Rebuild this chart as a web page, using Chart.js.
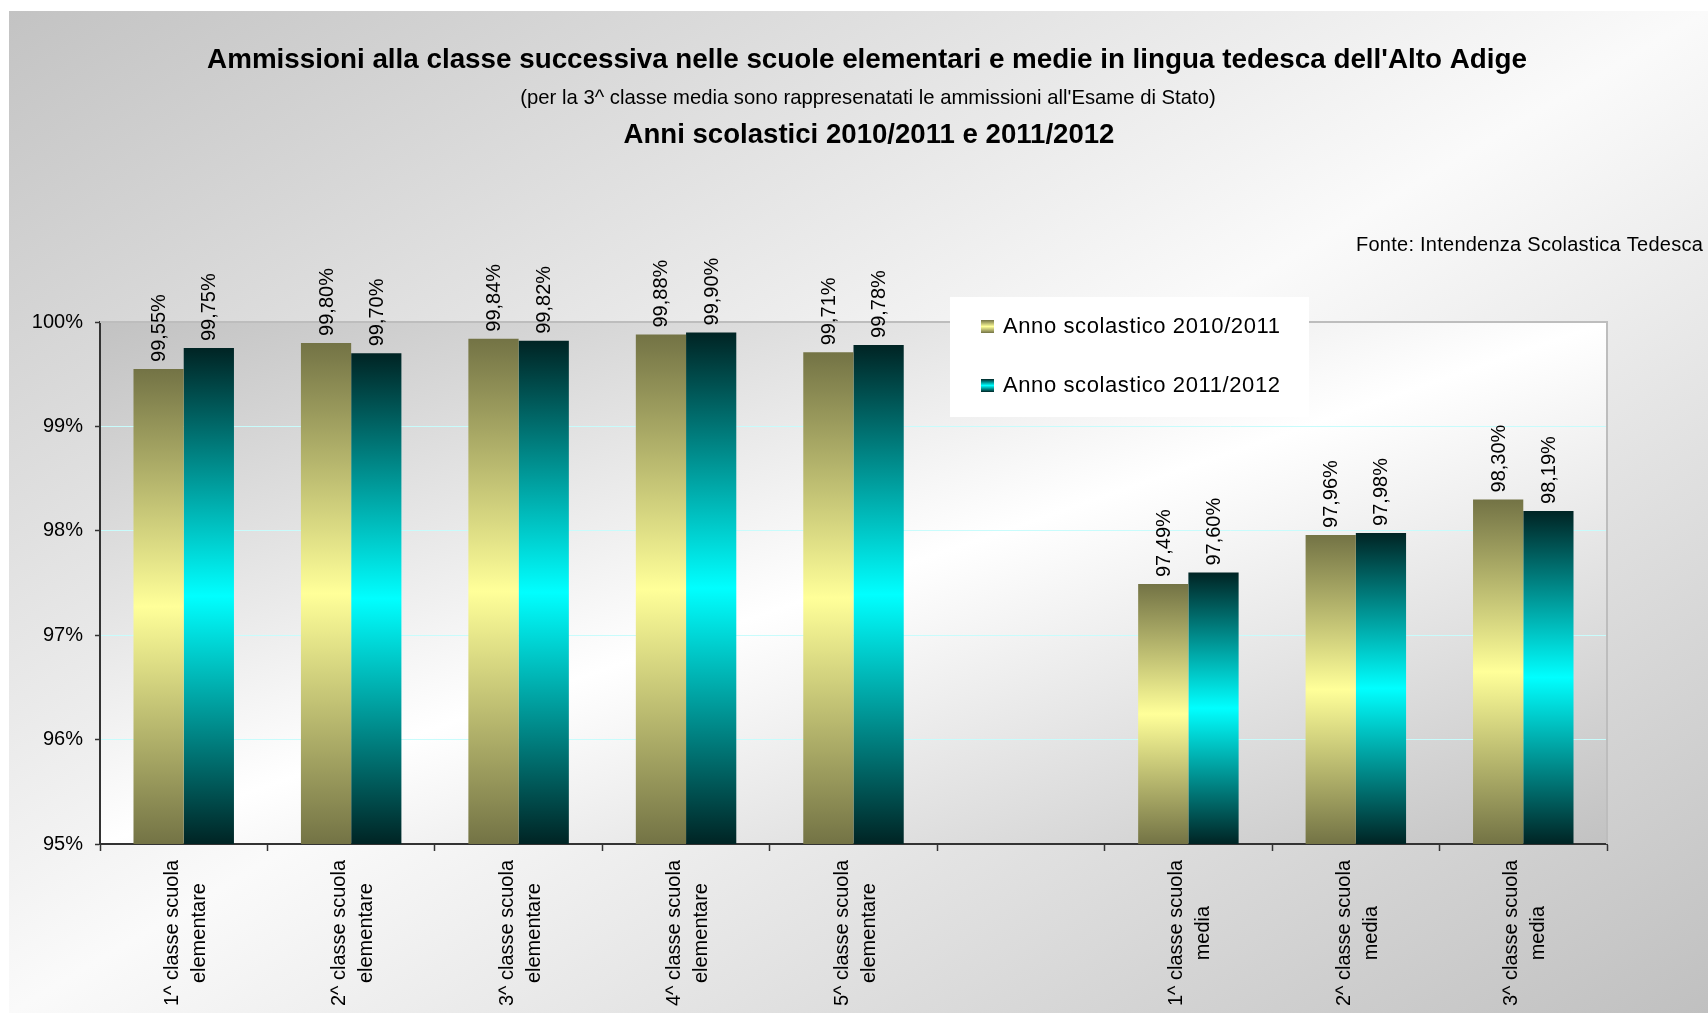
<!DOCTYPE html>
<html>
<head>
<meta charset="utf-8">
<script src="https://cdn.jsdelivr.net/npm/chart.js@4.4.1/dist/chart.umd.min.js"></script>
<style>
    html, body { margin: 0; padding: 0; background: #fff; }
    #wrap { width: 1708px; height: 1013px; }
</style>
</head>
<body>
<div id="wrap"><canvas id="myChart" width="1708" height="1013"></canvas></div>
<script>
// categories (two-line labels), the 6th slot is the empty gap between the two school levels
const categories = [
    ['1^ classe scuola', 'elementare'],
    ['2^ classe scuola', 'elementare'],
    ['3^ classe scuola', 'elementare'],
    ['4^ classe scuola', 'elementare'],
    ['5^ classe scuola', 'elementare'],
    [''],
    ['1^ classe scuola', 'media'],
    ['2^ classe scuola', 'media'],
    ['3^ classe scuola', 'media']
];
const anno_2010_2011 = [99.55, 99.80, 99.84, 99.88, 99.71, null, 97.49, 97.96, 98.30];
const anno_2011_2012 = [99.75, 99.70, 99.82, 99.90, 99.78, null, 97.60, 97.98, 98.19];
const series_names = ['Anno scolastico 2010/2011', 'Anno scolastico 2011/2012'];
const y_ticks = [95, 96, 97, 98, 99, 100];

const title_main = "Ammissioni alla classe successiva nelle scuole elementari e medie in lingua tedesca dell'Alto Adige";
const title_sub = "(per la 3^ classe media sono rappresenatati le ammissioni all'Esame di Stato)";
const title_years = "Anni scolastici 2010/2011 e 2011/2012";
const source_text = "Fonte: Intendenza Scolastica Tedesca";

const FONT = '"Liberation Sans", Arial, sans-serif';
const yellow_stops = ['#737345', '#ffff99', '#737345'];
const cyan_stops = ['#002424', '#00ffff', '#002424'];

function bar_gradient(stops) {
    return function (context) {
        const chart = context.chart;
        if (!chart.chartArea || context.raw == null) return stops[1];
        const ys = chart.scales.y;
        const top = ys.getPixelForValue(context.raw);
        const bottom = ys.getPixelForValue(ys.min);
        const g = chart.ctx.createLinearGradient(0, top, 0, bottom);
        g.addColorStop(0, stops[0]);
        g.addColorStop(0.5, stops[1]);
        g.addColorStop(1, stops[2]);
        return g;
    };
}

// corner-to-corner gradient whose middle runs through bottom-left and top-right corners
function diag_fill(ctx, x, y, w, h, c1, c2, c3) {
    const cx = x + w / 2, cy = y + h / 2;
    const k = (w * h) / (w * w + h * h);
    const g = ctx.createLinearGradient(cx - k * h, cy - k * w, cx + k * h, cy + k * w);
    g.addColorStop(0, c1);
    g.addColorStop(0.5, c2);
    g.addColorStop(1, c3);
    ctx.fillStyle = g;
    ctx.fillRect(x, y, w, h);
}

const backgroundPlugin = {
    id: 'backgroundPlugin',
    beforeDraw(chart) {
        const ctx = chart.ctx;
        const a = chart.chartArea;
        ctx.save();
        ctx.fillStyle = '#ffffff';
        ctx.fillRect(0, 0, chart.width, chart.height);
        diag_fill(ctx, 9, 11, chart.width - 9, chart.height - 11, '#c3c3c3', '#fafafa', '#c0c0c0');
        diag_fill(ctx, a.left, a.top, a.right - a.left, a.bottom - a.top, '#c2c2c2', '#ffffff', '#c2c2c2');
        ctx.restore();
    },
    beforeDatasetsDraw(chart) {
        const ctx = chart.ctx;
        const a = chart.chartArea;
        ctx.save();
        ctx.strokeStyle = '#bdbdbd';
        ctx.lineWidth = 2;
        ctx.beginPath();
        ctx.moveTo(a.left, a.top);
        ctx.lineTo(a.right, a.top);
        ctx.lineTo(a.right, a.bottom);
        ctx.stroke();
        ctx.restore();
    }
};

const textPlugin = {
    id: 'textPlugin',
    afterDatasetsDraw(chart) {
        const ctx = chart.ctx;
        ctx.save();
        ctx.font = '20px ' + FONT;
        ctx.fillStyle = '#000';
        ctx.textAlign = 'left';
        ctx.textBaseline = 'middle';
        chart.data.datasets.forEach((ds, i) => {
            chart.getDatasetMeta(i).data.forEach((bar, j) => {
                const v = ds.data[j];
                if (v == null) return;
                ctx.save();
                ctx.translate(bar.x + 1, bar.y - 7);
                ctx.rotate(-Math.PI / 2);
                ctx.fillText(v.toFixed(2).replace('.', ',') + '%', 0, 0);
                ctx.restore();
            });
        });
        ctx.restore();
    },
    afterDraw(chart) {
        const ctx = chart.ctx;
        const xs = chart.scales.x;
        ctx.save();
        ctx.fillStyle = '#000';

        // header
        ctx.textAlign = 'center';
        ctx.textBaseline = 'alphabetic';
        ctx.font = 'bold 27.8px ' + FONT;
        ctx.fillText(title_main, 867, 68);
        ctx.font = '20.3px ' + FONT;
        ctx.fillText(title_sub, 868, 104);
        ctx.font = 'bold 27.6px ' + FONT;
        ctx.fillText(title_years, 869, 143);
        ctx.font = '20px ' + FONT;
        ctx.textAlign = 'right';
        ctx.letterSpacing = '0.25px';
        ctx.fillText(source_text, 1703, 251);
        ctx.letterSpacing = '0px';

        // category labels, lines centred on each other
        ctx.font = '20px ' + FONT;
        ctx.textAlign = 'center';
        ctx.textBaseline = 'middle';
        categories.forEach((lines, i) => {
            if (!lines.join('')) return;
            const maxW = Math.max(...lines.map(l => ctx.measureText(l).width));
            const cx = xs.getPixelForValue(i) + 2;
            const cy = xs.top + 16 + maxW / 2;
            lines.forEach((l, k) => {
                ctx.save();
                ctx.translate(cx + (k - (lines.length - 1) / 2) * 27, cy);
                ctx.rotate(-Math.PI / 2);
                ctx.fillText(l, 0, 0);
                ctx.restore();
            });
        });

        // legend
        ctx.fillStyle = '#ffffff';
        ctx.fillRect(950, 297, 359, 120);
        const marks = [yellow_stops, cyan_stops];
        series_names.forEach((name, i) => {
            const my = 320 + i * 59;
            const g = ctx.createLinearGradient(0, my, 0, my + 13);
            g.addColorStop(0, marks[i][0]);
            g.addColorStop(0.5, marks[i][1]);
            g.addColorStop(1, marks[i][2]);
            ctx.fillStyle = g;
            ctx.fillRect(981, my, 13, 13);
            ctx.fillStyle = '#000';
            ctx.font = '22px ' + FONT;
            ctx.textAlign = 'left';
            ctx.textBaseline = 'alphabetic';
            ctx.letterSpacing = '0.6px';
            ctx.fillText(name, 1003, my + 13);
            ctx.letterSpacing = '0px';
        });
        ctx.restore();
    }
};

var ctx = document.getElementById('myChart');
var chart = new Chart(ctx, {
    type: 'bar',
    data: {
        labels: categories,
        datasets: [
            {
                label: series_names[0],
                data: anno_2010_2011,
                backgroundColor: bar_gradient(yellow_stops),
                borderWidth: 0,
                categoryPercentage: 0.6,
                barPercentage: 1.0
            },
            {
                label: series_names[1],
                data: anno_2011_2012,
                backgroundColor: bar_gradient(cyan_stops),
                borderWidth: 0,
                categoryPercentage: 0.6,
                barPercentage: 1.0
            }
        ]
    },
    options: {
        responsive: false,
        animation: false,
        devicePixelRatio: 1,
        layout: { padding: { left: 9, top: 322, right: 101, bottom: 0 } },
        scales: {
            x: {
                afterFit: s => { s.height = 169; },
                ticks: { display: false },
                grid: {
                    drawOnChartArea: false,
                    offset: true,
                    tickLength: 7,
                    tickColor: '#333333',
                    tickWidth: 1.5
                },
                border: { color: '#333333', width: 2 }
            },
            y: {
                min: y_ticks[0],
                max: y_ticks[y_ticks.length - 1],
                afterFit: s => { s.width = 91; },
                afterBuildTicks: s => { s.ticks = y_ticks.map(v => ({ value: v })); },
                ticks: {
                    padding: 12,
                    color: '#000',
                    font: { family: FONT, size: 20 },
                    callback: v => v + '%'
                },
                grid: {
                    color: '#c8fcfc',
                    lineWidth: 1,
                    tickLength: 5,
                    tickColor: '#333333',
                    tickWidth: 1.5
                },
                border: { color: '#333333', width: 2 }
            }
        },
        plugins: {
            legend: { display: false },
            title: { display: false },
            tooltip: { enabled: false }
        }
    },
    plugins: [backgroundPlugin, textPlugin]
});
</script>
</body>
</html>
